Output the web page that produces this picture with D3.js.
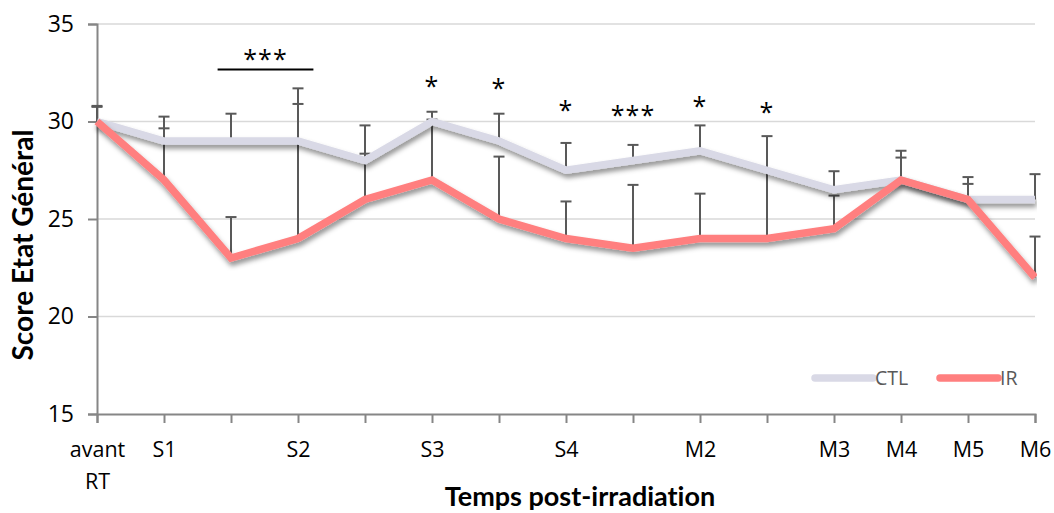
<!DOCTYPE html>
<html><head><meta charset="utf-8">
<script src="https://cdn.jsdelivr.net/npm/d3@7"></script>
<style>body{margin:0;background:#fff} text{font-variant-ligatures:none}</style>
</head><body><svg id="c" width="1054" height="513"></svg>
<script>
const categories = ["avant\nRT","S1","","S2","","S3","","S4","","M2","","M3","M4","M5","M6"];
const ctlValues = [30,29,29,29,28,30,29,27.5,28,28.5,27.5,26.5,27,26,26];
const irValues  = [30,27,23,24,26,27,25,24,23.5,24,24,24.5,27,26,22];
const ctlErrors = [0.8,1.25,1.4,2.7,1.8,0.5,1.4,1.4,0.8,1.3,1.75,0.95,1.5,1.15,1.3];
const irErrors  = [0.75,2.65,2.1,6.9,2.35,3.1,3.2,1.9,3.25,2.3,3.5,1.7,1.15,0.8,2.1];
const yTicks = [15,20,25,30,35];
const seriesNames = ["CTL","IR"];
const starIndex = [5,6,7,8,9,10];
const starLabels = ["*","*","*","***","*","*"];
const starValues = [32.05,31.9,30.77,30.56,31.0,30.67];
const bracketFrom = 1.8, bracketTo = 3.23, bracketValue = 32.67, bracketLabel = "***", bracketLabelValue = 33.4;

(function(){
const svg = d3.select("#c");
const font = "'Open Sans', sans-serif";
const titleFont = "Lato, sans-serif";
const pl = 97, pr = 1035, pt = 24, pb = 414;
const x = d3.scaleLinear().domain([0, categories.length - 1]).range([pl, pr]);
const y = d3.scaleLinear().domain([15, 35]).range([pb, pt]);

const defs = svg.append("defs");
const f = defs.append("filter").attr("id","sh").attr("x","-10%").attr("y","-10%").attr("width","130%").attr("height","140%");
f.append("feDropShadow").attr("dx",1.5).attr("dy",4).attr("stdDeviation",2.5).attr("flood-color","#000").attr("flood-opacity",0.42);
defs.append("clipPath").attr("id","clip").append("rect").attr("x",0).attr("y",0).attr("width",pr+2).attr("height",513);

// gridlines
svg.append("g").selectAll("line").data(yTicks.filter(d => d !== 15)).join("line")
  .attr("x1", pl).attr("x2", pr).attr("y1", d => y(d)).attr("y2", d => y(d))
  .attr("stroke", "#d9d9d9").attr("stroke-width", 1.5);

// y axis
const yAxis = svg.append("g").attr("transform", `translate(${pl},0)`)
  .call(d3.axisLeft(y).tickValues(yTicks).tickSize(9).tickPadding(14));
yAxis.select(".domain").attr("stroke", "#868686").attr("stroke-width", 2);
yAxis.selectAll(".tick line").attr("stroke", "#868686").attr("stroke-width", 2);
yAxis.selectAll(".tick text").attr("font-family", font).attr("font-size", 23).attr("fill", "#000");

// x axis
const xAxis = svg.append("g").attr("transform", `translate(0,${pb})`)
  .call(d3.axisBottom(x).tickValues(d3.range(categories.length)).tickSize(9).tickPadding(14).tickFormat(""));
xAxis.select(".domain").attr("stroke", "#868686").attr("stroke-width", 2);
xAxis.selectAll(".tick line").attr("stroke", "#868686").attr("stroke-width", 2);
xAxis.selectAll(".tick").each(function(d) {
  const lines = categories[d].split("\n");
  const t = d3.select(this).append("text").attr("font-family", font).attr("font-size", 21.5)
    .attr("fill", "#000").attr("text-anchor", "middle").attr("y", 43);
  lines.forEach((l, k) => t.append("tspan").attr("x", 0).attr("dy", k === 0 ? 0 : 32).text(l));
});

// error bars (upper only), drawn under the lines
function errBars(vals, errs) {
  const g = svg.append("g").attr("stroke", "#595959").attr("stroke-width", 2);
  vals.forEach((v, i) => {
    const hi = v + errs[i];
    g.append("line").attr("x1", x(i)).attr("x2", x(i)).attr("y1", y(v)).attr("y2", y(hi));
    g.append("line").attr("x1", x(i) - 5.5).attr("x2", x(i) + 5.5).attr("y1", y(hi)).attr("y2", y(hi));
  });
}
errBars(ctlValues, ctlErrors);
errBars(irValues, irErrors);

const line = d3.line().x((d, i) => x(i)).y(d => y(d));
const lg = svg.append("g").attr("clip-path", "url(#clip)");
lg.append("path").datum(ctlValues).attr("d", line).attr("fill", "none")
  .attr("stroke", "#d9d9e6").attr("stroke-width", 7.5).attr("filter", "url(#sh)");
lg.append("path").datum(irValues).attr("d", line).attr("fill", "none")
  .attr("stroke", "#ff7f7f").attr("stroke-width", 7.5).attr("filter", "url(#sh)");

// significance
svg.append("line").attr("x1", x(bracketFrom)).attr("x2", x(bracketTo))
  .attr("y1", y(bracketValue)).attr("y2", y(bracketValue)).attr("stroke", "#000").attr("stroke-width", 2);
svg.append("text").attr("x", (x(bracketFrom) + x(bracketTo)) / 2).attr("y", y(bracketLabelValue) + 13)
  .attr("text-anchor", "middle").attr("font-family", font).attr("font-size", 25).attr("letter-spacing", 1).text(bracketLabel);
svg.append("g").selectAll("text").data(starIndex).join("text")
  .attr("x", d => x(d)).attr("y", (d, k) => y(starValues[k]) + 13)
  .attr("text-anchor", "middle").attr("font-family", font).attr("font-size", 25).attr("letter-spacing", 1)
  .text((d, k) => starLabels[k]);

// legend
const legendColors = ["#d9d9e6", "#ff7f7f"];
const legendX = [815, 940];
seriesNames.forEach((n, k) => {
  svg.append("line").attr("x1", legendX[k]).attr("x2", legendX[k] + 58).attr("y1", 378).attr("y2", 378)
    .attr("stroke", legendColors[k]).attr("stroke-width", 7.5).attr("stroke-linecap", "round");
  svg.append("text").attr("x", legendX[k] + 60).attr("y", 385).attr("font-family", font)
    .attr("font-size", 19.5).attr("fill", "#595959").text(n);
});

// axis titles
svg.append("text").attr("x", 580).attr("y", 506).attr("text-anchor", "middle")
  .attr("font-family", titleFont).attr("font-weight", "bold").attr("font-size", 27).text("Temps post-irradiation");
svg.append("text").attr("transform", "translate(33,245) rotate(-90)").attr("text-anchor", "middle")
  .attr("font-family", titleFont).attr("font-weight", "bold").attr("font-size", 28).text("Score Etat Général");
})();
</script></body></html>
